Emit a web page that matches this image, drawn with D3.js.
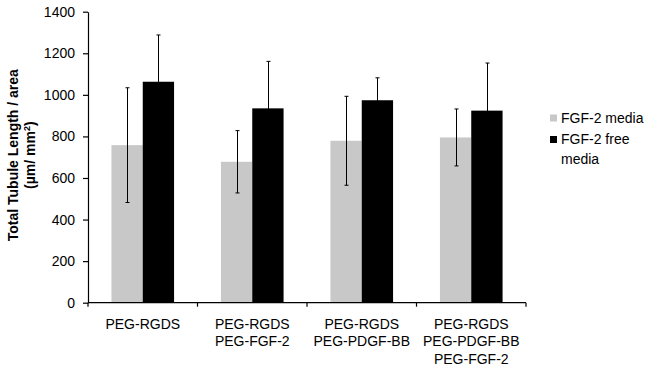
<!DOCTYPE html>
<html><head><meta charset="utf-8">
<script src="https://cdn.jsdelivr.net/npm/d3@7"></script>
<style>body{margin:0;background:#fff}svg{display:block;font-family:"Liberation Sans",Arial,sans-serif}</style>
</head><body><svg id="c" width="651" height="368"></svg>
<script>
const categories = [["PEG-RGDS"],["PEG-RGDS","PEG-FGF-2"],["PEG-RGDS","PEG-PDGF-BB"],["PEG-RGDS","PEG-PDGF-BB","PEG-FGF-2"]];
const seriesNames = ["FGF-2 media","FGF-2 free media"];
const fgfMedia = [758, 678, 779, 795];
const fgfMediaErr = [276, 150, 214, 137];
const fgfFree = [1063, 935, 974, 924];
const fgfFreeErr = [225, 226, 108, 229];
const yTicks = [0,200,400,600,800,1000,1200,1400];
const colors = ["#c8c8c8","#000000"];

const svg = d3.select("#c");
const m = {l:88, r:125, t:11.7, b:65.3};
const W = 651, H = 368;
const FS = 14;
const x = d3.scaleBand().domain(d3.range(categories.length)).range([m.l, W-m.r]).paddingInner(0).paddingOuter(0);
const y = d3.scaleLinear().domain([0,1400]).range([H-m.b, m.t]);
const bw = x.bandwidth();
const barW = bw*0.286;
const gap = (bw - 2*barW)/2;

const series = [
  {name: seriesNames[0], vals: fgfMedia, err: fgfMediaErr, color: colors[0]},
  {name: seriesNames[1], vals: fgfFree, err: fgfFreeErr, color: colors[1]}
];

series.forEach((s, si) => {
  const g = svg.append("g");
  s.vals.forEach((v, i) => {
    const x0 = x(i) + gap + si*barW;
    g.append("rect").attr("x", x0).attr("y", y(v)).attr("width", barW).attr("height", y(0)-y(v)).attr("fill", s.color);
  });
});
series.forEach((s, si) => {
  const g = svg.append("g").attr("stroke", "#000").attr("stroke-width", 1);
  s.vals.forEach((v, i) => {
    const cx = Math.round(x(i) + gap + si*barW + barW/2) + 0.5;
    const top = y(v + s.err[i]), bot = y(v - s.err[i]);
    g.append("line").attr("x1", cx).attr("x2", cx).attr("y1", top).attr("y2", bot);
    g.append("line").attr("x1", cx-2).attr("x2", cx+2).attr("y1", top).attr("y2", top);
    g.append("line").attr("x1", cx-2).attr("x2", cx+2).attr("y1", bot).attr("y2", bot);
  });
});

// Y axis
const yAxis = d3.axisLeft(y).tickValues(yTicks).tickFormat(d3.format("d")).tickSize(5).tickPadding(8).tickSizeOuter(0);
const ya = svg.append("g").attr("transform", `translate(${m.l},0)`).call(yAxis);
ya.select(".domain").attr("stroke", "#000").attr("stroke-width", 1.2);
ya.selectAll(".tick line").attr("stroke", "#000").attr("stroke-width", 1.2);
ya.selectAll("text").attr("font-size", FS).attr("fill", "#000").attr("font-family", "Liberation Sans, Arial, sans-serif");

// X axis with boundary ticks
const xa = svg.append("g");
xa.append("line").attr("x1", m.l).attr("x2", W-m.r).attr("y1", y(0)).attr("y2", y(0)).attr("stroke", "#000").attr("stroke-width", 1.2);
d3.range(categories.length+1).forEach(i => {
  const xx = i < categories.length ? x(i) : x(categories.length-1) + bw;
  xa.append("line").attr("x1", xx).attr("x2", xx).attr("y1", y(0)).attr("y2", y(0)+4).attr("stroke", "#000").attr("stroke-width", 1.2);
});
categories.forEach((lines, i) => {
  const t = xa.append("text").attr("text-anchor", "middle").attr("font-size", FS).attr("fill", "#000");
  lines.forEach((ln, j) => {
    t.append("tspan").attr("x", x(i) + bw/2).attr("y", y(0) + 25.8 + j*17.8).text(ln);
  });
});

// Y title
const yt = svg.append("text").attr("transform", `translate(17.5,${(m.t + y(0))/2 - 2}) rotate(-90)`)
  .attr("text-anchor", "middle").attr("font-size", FS).attr("font-weight", "bold").attr("fill", "#000");
yt.append("tspan").attr("x", 0).attr("y", 0).text("Total Tubule Length / area");
const t2 = yt.append("tspan").attr("x", 0).attr("y", 17.5).text("(µm/ mm");
t2.append("tspan").attr("font-size", 9).attr("dy", -5).text("2");
t2.append("tspan").attr("dy", 5).text(")");

// Legend
const lg = svg.append("g");
lg.append("rect").attr("x", 550).attr("y", 114.5).attr("width", 7).attr("height", 7).attr("fill", colors[0]);
lg.append("text").attr("x", 561).attr("y", 123.3).attr("font-size", FS).text(seriesNames[0]);
lg.append("rect").attr("x", 550).attr("y", 136).attr("width", 7).attr("height", 7).attr("fill", colors[1]);
const lt = lg.append("text").attr("font-size", FS);
lt.append("tspan").attr("x", 561).attr("y", 144).text("FGF-2 free");
lt.append("tspan").attr("x", 561).attr("y", 164).text("media");
</script></body></html>
